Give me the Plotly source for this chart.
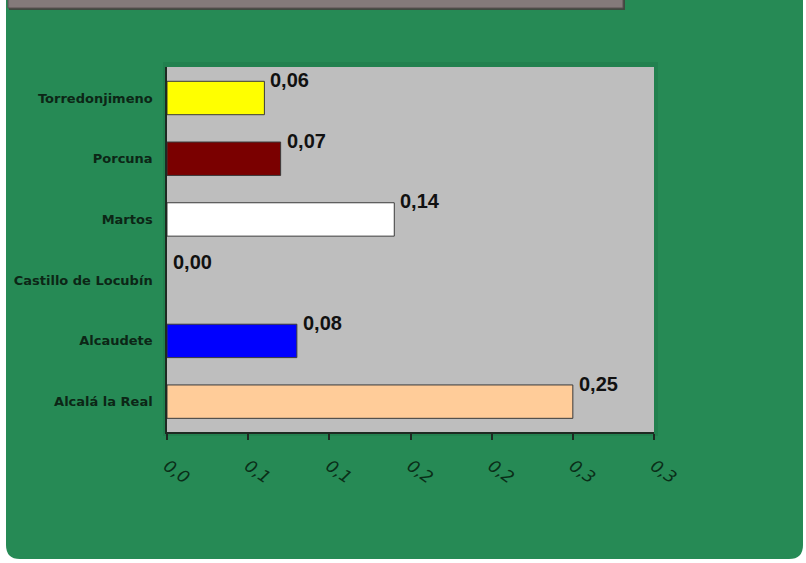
import plotly.graph_objects as go

# Municipalities (bottom to top) and their values
municipios = ["Alcalá la Real", "Alcaudete", "Castillo de Locubín",
              "Martos", "Porcuna", "Torredonjimeno"]
valores = [0.25, 0.08, 0.00, 0.14, 0.07, 0.06]
colores = ["#FFCC99", "#0000FF", "#FFFFFF", "#FFFFFF", "#7A0000", "#FFFF00"]

# X axis ticks (labels shown with one decimal, comma separator)
tick_vals = [0.0, 0.05, 0.10, 0.15, 0.20, 0.25, 0.30]
tick_text = ["0,0", "0,1", "0,1", "0,2", "0,2", "0,3", "0,3"]

W, H = 806, 563
ML, MR, MT, MB = 167, 152, 67, 131
PW, PH = W - ML - MR, H - MT - MB


def px(x):
    return (x - ML) / PW


def py(y):
    return 1 - (y - MT) / PH


def rounded_rect(x0, y0, x1, y1, r):
    pts = [
        f"M {px(x0 + r)},{py(y0)}",
        f"L {px(x1 - r)},{py(y0)}",
        f"Q {px(x1)},{py(y0)} {px(x1)},{py(y0 + r)}",
        f"L {px(x1)},{py(y1 - r)}",
        f"Q {px(x1)},{py(y1)} {px(x1 - r)},{py(y1)}",
        f"L {px(x0 + r)},{py(y1)}",
        f"Q {px(x0)},{py(y1)} {px(x0)},{py(y1 - r)}",
        f"L {px(x0)},{py(y0 + r)}",
        f"Q {px(x0)},{py(y0)} {px(x0 + r)},{py(y0)}",
        "Z",
    ]
    return " ".join(pts)


fig = go.Figure()
fig.add_trace(go.Bar(
    x=valores,
    y=municipios,
    orientation="h",
    marker=dict(color=colores,
                line=dict(color="#3a3a3a",
                          width=[1 if v > 0 else 0 for v in valores])),
    hoverinfo="skip",
))

# Value labels sitting just above the end of each bar
annotations = []
for m, v in zip(municipios, valores):
    annotations.append(dict(
        x=v, y=m, xref="x", yref="y",
        text=f"{v:.2f}".replace(".", ","),
        showarrow=False, xanchor="left", yanchor="middle",
        xshift=4, yshift=18,
        font=dict(family="Liberation Sans, Arial, sans-serif", size=20,
                  color="#111111", weight="bold"),
    ))

shapes = [
    # green rounded panel
    dict(type="path", xref="paper", yref="paper", layer="below",
         path=rounded_rect(6, -30, 803, 559, 14),
         fillcolor="#268A55", line=dict(width=0)),
    # soft shadow behind the plot area
    dict(type="rect", xref="paper", yref="paper", layer="below",
         x0=px(163), x1=px(658), y0=py(436), y1=py(62),
         fillcolor="rgba(25,110,65,0.3)", line=dict(width=0)),
    # grey plot area
    dict(type="rect", xref="paper", yref="paper", layer="below",
         x0=0, x1=1, y0=0, y1=1,
         fillcolor="#BEBEBE", line=dict(width=0)),
    # title box at the top edge
    dict(type="rect", xref="paper", yref="paper", layer="above",
         x0=px(9), x1=px(625), y0=py(10), y1=py(-10),
         fillcolor="#3f4a40", line=dict(width=0)),
    dict(type="rect", xref="paper", yref="paper", layer="above",
         x0=px(8), x1=px(623), y0=py(8), y1=py(-10),
         fillcolor="#847a7a", line=dict(color="#5a5050", width=1)),
]

fig.update_layout(
    width=W, height=H,
    margin=dict(l=ML, r=MR, t=MT, b=MB, pad=0),
    paper_bgcolor="#FFFFFF",
    plot_bgcolor="rgba(0,0,0,0)",
    bargap=0.45,
    showlegend=False,
    separators=",.",
    annotations=annotations,
    shapes=shapes,
    xaxis=dict(
        range=[0, 0.30],
        tickvals=tick_vals,
        ticktext=tick_text,
        tickangle=35,
        showgrid=False,
        zeroline=False,
        showline=True, linecolor="#1e2a22", linewidth=1.5,
        ticks="outside", ticklen=6, tickcolor="#1e2a22", tickwidth=1.5,
        ticklabelstandoff=10,
        tickfont=dict(family="DejaVu Sans, sans-serif", size=17,
                      color="#0a2e18", style="italic"),
        fixedrange=True,
    ),
    yaxis=dict(
        showgrid=False,
        zeroline=False,
        showline=True, linecolor="#1e2a22", linewidth=1.5,
        ticks="", ticklabelstandoff=10,
        tickfont=dict(family="DejaVu Sans, sans-serif", size=13,
                      color="#0c2616", weight="bold"),
        fixedrange=True,
    ),
)

fig.write_html("out.html", config={"displayModeBar": False})
